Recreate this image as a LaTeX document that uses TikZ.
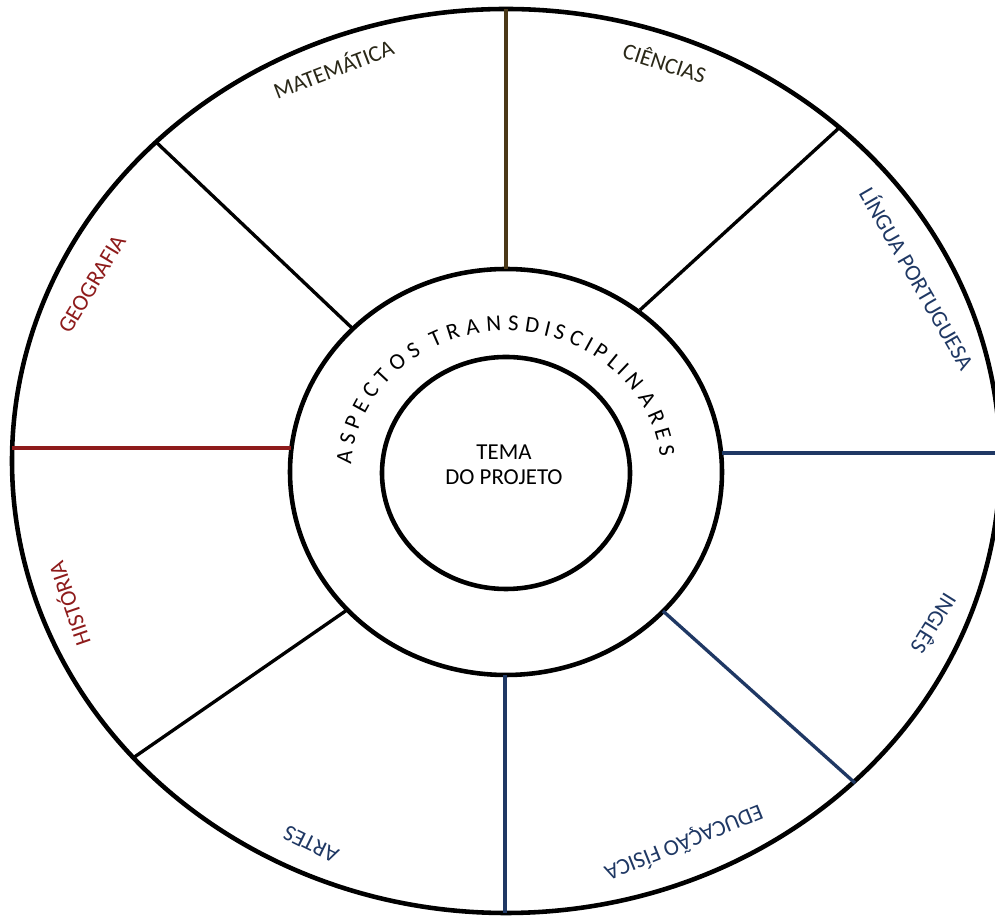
\documentclass[tikz,border=0pt]{standalone}
\usepackage{fontspec}
\setmainfont{Carlito}
\usetikzlibrary{decorations.text}
\definecolor{subjdark}{HTML}{2A2818}
\definecolor{subjred}{HTML}{8E1B1B}
\definecolor{subjblue}{HTML}{1F3864}
\definecolor{linebrown}{HTML}{4A3818}
\tikzset{
  ring/.style={line width=2.6pt, black},
  divider/.style={line width=1.9pt, #1},
  divider/.default={black},
  subject/.style={font=\fontsize{13}{15}\selectfont, text=#1, inner sep=1pt},
  subject/.default={subjdark},
}
\begin{document}
\begin{tikzpicture}[x=0.02cm, y=0.02cm]
\useasboundingbox (0,0) rectangle (995,916);
\fill[white] (0,0) rectangle (995,916);
\clip (0,0) rectangle (995,916);
\coordinate (c-out) at (506,455);
\coordinate (c-mid) at (506,444);
\coordinate (c-in) at (506,443);
% rings
\draw[ring] (c-out) ellipse [x radius=494, y radius=452];
\draw[ring] (c-mid) ellipse [x radius=216, y radius=203];
\draw[ring] (c-in) ellipse [x radius=124, y radius=116];
% divider ends
\coordinate (top-o) at (506,907);  \coordinate (top-i) at (506,647);
\coordinate (ul-o) at (156,774);   \coordinate (ul-i) at (352,588);
\coordinate (ur-o) at (839,788);   \coordinate (ur-i) at (640,606);
\coordinate (lft-o) at (12,468);   \coordinate (lft-i) at (291,468);
\coordinate (rgt-o) at (1000,463); \coordinate (rgt-i) at (722,463);
\coordinate (ll-o) at (133,158);   \coordinate (ll-i) at (347,306);
\coordinate (bot-o) at (505,3);    \coordinate (bot-i) at (505,241);
\coordinate (lr-o) at (855,133);   \coordinate (lr-i) at (663,305);
\foreach \d/\col in {top/linebrown, ul/black, ur/black, lft/subjred,
                     rgt/subjblue, ll/black, bot/subjblue, lr/subjblue}
  \draw[divider=\col] (\d-i) -- (\d-o);
% subjects
\node[subject, rotate=21] (mat) at (333,848) {MATEMÁTICA};
\node[subject, rotate=-18] (cie) at (665,854) {CIÊNCIAS};
\node[subject=subjblue, rotate=-60] (lpt) at (918,638) {LÍNGUA PORTUGUESA};
\node[subject=subjred, rotate=59] (geo) at (92,632) {GEOGRAFIA};
\node[subject=subjred, rotate=109] (his) at (68,312) {HISTÓRIA};
\node[subject=subjblue, rotate=-122] (ing) at (935,292) {INGLÊS};
\node[subject=subjblue, rotate=-158] (edf) at (684,73) {EDUCAÇÃO FÍSICA};
\node[subject=subjblue, rotate=154] (art) at (311,72) {ARTES};
% centre
\node[font=\fontsize{13}{14.5}\selectfont, align=center] (tema) at (504,451) {TEMA\\DO PROJETO};
\path[font=\fontsize{13}{13}\selectfont, decorate,
    decoration={text effects along path,
    text={ASPECTOS TRANSDISCIPLINARES},
    text effects/.cd, text along path, fit text to path,
    characters={font=\fontsize{13}{13}\selectfont, text=black}}]
  (c-mid) ++(177:155 and 141) arc[start angle=177, end angle=6, x radius=155, y radius=141];
\end{tikzpicture}
\end{document}
